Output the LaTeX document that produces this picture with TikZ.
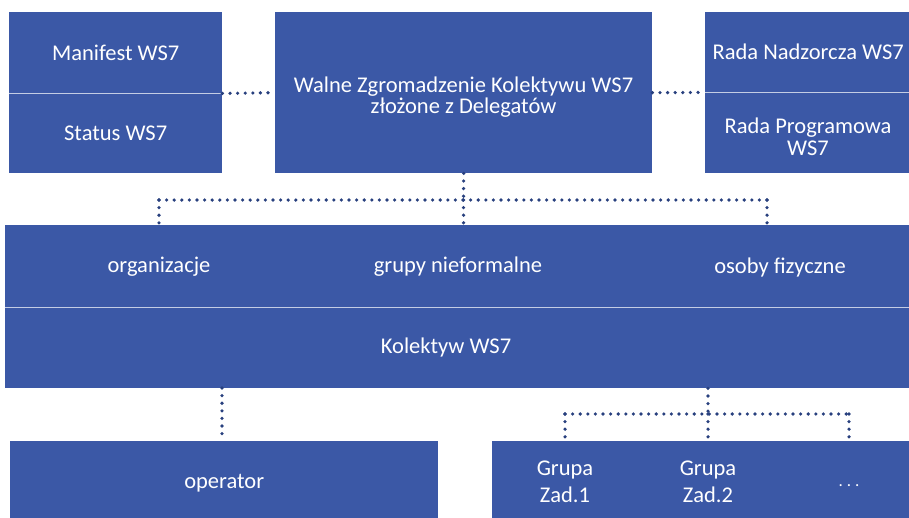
\documentclass[tikz,border=0pt]{standalone}
\usepackage{fontspec}
\setmainfont{Carlito}
\definecolor{boxblue}{RGB}{59,88,166}
\definecolor{dotblue}{RGB}{40,64,126}
\definecolor{divline}{RGB}{196,205,228}
\tikzset{
  box/.style={fill=boxblue,inner sep=0pt,anchor=north west,text=white,
    font=\fontsize{22.5}{21.5}\selectfont,align=center},
  label/.style={text=white,font=\fontsize{22.5}{27}\selectfont,align=center,inner sep=0pt},
  link/.style={dotblue,line width=3.6pt,line cap=round,dash pattern=on 0pt off 7.6pt},
  divider/.style={divline,line width=1.6pt}
}
\begin{document}
\begin{tikzpicture}[x=1pt,y=-1pt]
      \useasboundingbox[fill=white] (0,0) rectangle (909,517);

      % top row
      \node[box,minimum width=213,minimum height=81] (manifest) at (9,12) {Manifest WS7};
      \node[box,minimum width=213,minimum height=80] (status) at (9,93) {Status WS7};
      \node[box,minimum width=377,minimum height=161] (walne) at (275,12) {};
      \node[label,font=\fontsize{22.5}{21.5}\selectfont] (walnetxt) at (463.5,97)
        {Walne Zgromadzenie Kolektywu WS7\\złożone z Delegatów};
      \node[box,minimum width=206,minimum height=80] (nadzorcza) at (705,12) {Rada Nadzorcza WS7};
      \node[box,minimum width=206,minimum height=81] (programowa) at (705,92) {};
      \node[label,font=\fontsize{22.5}{21.5}\selectfont] (programowatxt) at (808,137)
        {Rada Programowa\\WS7};
      \draw[divider] (manifest.south west)--(manifest.south east);
      \draw[divider] (nadzorcza.south west)--(nadzorcza.south east);

      % Kolektyw
      \node[box,minimum width=910,minimum height=82] (czlonkowie) at (5,225) {};
      \node[box,minimum width=910,minimum height=81] (kolektyw) at (5,307) {};
      \draw[divider] (czlonkowie.south west)--(czlonkowie.south east);
      \node[label] (organizacje) at (159,267) {organizacje};
      \node[label] (nieformalne) at (458,267) {grupy nieformalne};
      \node[label] (fizyczne) at (780,267) {osoby fizyczne};
      \node[label] (kolektywtxt) at (446,347) {Kolektyw WS7};

      % bottom row
      \node[box,minimum width=428,minimum height=84] (operator) at (10,441) {operator};
      \node[box,minimum width=420,minimum height=84] (zadania) at (492,441) {};
      \node[label] (zad1) at (565,482) {Grupa\\Zad.1};
      \node[label] (zad2) at (708,482) {Grupa\\Zad.2};
      \node[label,font=\fontsize{17}{20}\selectfont] (reszta) at (849,486) {.\hspace{4pt}.\hspace{4pt}.};

      % links
      \draw[link] (manifest.south east)--(walne.west);
      \draw[link] (walne.east)--(nadzorcza.south west);

      \coordinate (split) at (463.5,200);
      \coordinate (splitL) at (159,200);
      \coordinate (splitR) at (767,200);
      \draw[link] (walne.south)--(split);
      \draw[link] (splitL)--(splitR);
      \draw[link] (splitL)--(splitL |- czlonkowie.north);
      \draw[link] (split)--(split |- czlonkowie.north);
      \draw[link] (splitR)--(splitR |- czlonkowie.north);

      \draw[link] (222,388)--(222,441);

      \coordinate (gsplit) at (708,414);
      \draw[link] (gsplit |- kolektyw.south)--(gsplit);
      \draw[link] (zad1 |- gsplit)--(reszta |- gsplit);
      \draw[link] (zad1 |- gsplit)--(zad1 |- zadania.north);
      \draw[link] (gsplit)--(zad2 |- zadania.north);
      \draw[link] (reszta |- gsplit)--(reszta |- zadania.north);

    \end{tikzpicture}
\end{document}
